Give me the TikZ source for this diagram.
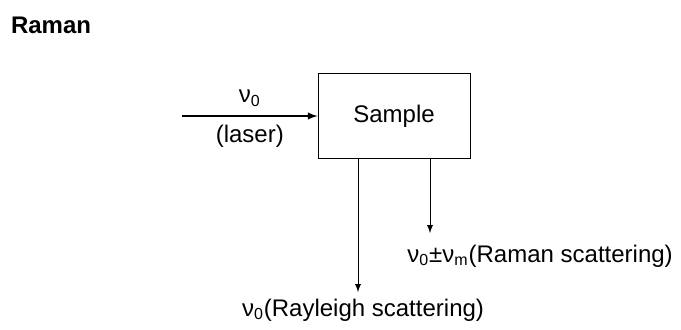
\documentclass[tikz,border=0pt]{standalone}
\usepackage{fontspec}
\setmainfont{Liberation Sans}
\usetikzlibrary{positioning}

\newcommand{\nuz}{ν\textsubscript{0}}

\begin{document}
\begin{tikzpicture}[x=0.5pt,y=-0.5pt,>=latex,font=\fontsize{12}{14}\selectfont]
    \useasboundingbox (0,0) rectangle (681,329);
    \node[anchor=west,font=\fontsize{12}{14}\selectfont\bfseries] (title) at (4,25) {Raman};
    \node[draw,minimum width=76pt,minimum height=42.5pt] (sample) at (394,116) {Sample};
    \coordinate (laser) at (182,116);
    \coordinate (rayleigh) at (358,292);
    \coordinate (raman) at (430,233);
    \draw[->,line width=0.7pt] (laser) -- (sample)
        node[midway,above=1pt] {\nuz}
        node[midway,below=1pt] {(laser)};
    \draw[->] (rayleigh |- sample.south) -- (rayleigh);
    \draw[->] (raman |- sample.south) -- (raman);
    \node (raylabel) at (363,310) {\nuz(Rayleigh scattering)};
    \node (ramlabel) at (540,256) {\nuz±ν\textsubscript{m}(Raman scattering)};
\end{tikzpicture}
\end{document}
